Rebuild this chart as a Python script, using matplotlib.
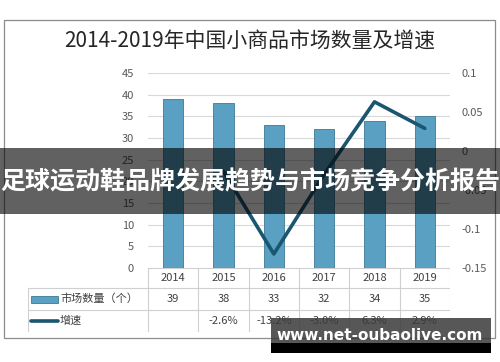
import matplotlib.pyplot as plt
from matplotlib.patches import Rectangle

plt.rcParams['font.family'] = ['Noto Sans CJK SC', 'DejaVu Sans']

# ---- data ----
years = ['2014', '2015', '2016', '2017', '2018', '2019']
counts = [39, 38, 33, 32, 34, 35]
growth = [None, -0.026, -0.132, -0.030, 0.063, 0.029]
growth_labels = ['', '-2.6%', '-13.2%', '-3.0%', '6.3%', '2.9%']
left_ticks = [0, 5, 10, 15, 20, 25, 30, 35, 40, 45]
right_ticks = [-0.15, -0.1, -0.05, 0, 0.05, 0.1]
right_tick_labels = ['-0.15', '-0.1', '-0.05', '0', '0.05', '0.1']

title = '2014-2019年中国小商品市场数量及增速'
banner = '足球运动鞋品牌发展趋势与市场竞争分析报告'
watermark = 'www.net-oubaolive.com'

W, H = 500, 362
BAR_C = '#5aa0c2'
BAR_EDGE = '#3c7996'
LINE_C = '#1b5670'
TXT_C = '#404040'
GRID_C = '#d9d9d9'


def px_box(x0, y0, x1, y1):
    return [x0 / W, 1 - y1 / H, (x1 - x0) / W, (y1 - y0) / H]


fig = plt.figure(figsize=(5, 3.62), dpi=100)

# outer chart frame
fig.patches.append(Rectangle((4 / W, 1 - 338 / H), 491 / W, 318 / H,
                             transform=fig.transFigure, fill=False,
                             edgecolor='#8c8c8c', lw=0.9))

fig.text(250 / W, 1 - 42 / H, title, ha='center', va='center',
         fontsize=15, color='#262626')

# ---- main plot ----
PX0, PX1, PY0, PY1 = 148, 450, 73, 268
ax = fig.add_axes(px_box(PX0, PY0, PX1, PY1))
x = list(range(len(years)))
ax.bar(x, counts, width=0.4, color=BAR_C, edgecolor=BAR_EDGE, lw=0.6, zorder=2)
ax.set_xlim(-0.5, len(years) - 0.5)
ax.set_ylim(0, 45)
ax.set_yticks(left_ticks)
ax.set_xticks([])
ax.grid(axis='y', color=GRID_C, lw=0.8, zorder=0)
ax.tick_params(axis='y', length=0, pad=10, labelsize=8, labelcolor='#595959')
for s in ax.spines.values():
    s.set_visible(False)

ax2 = ax.twinx()
gx = [i for i, g in zip(x, growth) if g is not None]
gy = [g for g in growth if g is not None]
ax2.plot(gx, gy, color=LINE_C, lw=2.6, solid_capstyle='round', zorder=3)
ax2.set_ylim(-0.15, 0.1)
ax2.set_yticks(right_ticks)
ax2.set_yticklabels(right_tick_labels)
ax2.tick_params(axis='y', length=0, pad=8, labelsize=8, labelcolor='#595959')
for s in ax2.spines.values():
    s.set_visible(False)

# ---- data table ----
TX0, TY0, TY1 = 28, 268, 332
col_w = (PX1 - PX0) / len(years)
tax = fig.add_axes(px_box(TX0, TY0, PX1, TY1))
tax.set_xlim(-0.5 - (PX0 - TX0) / col_w, len(years) - 0.5)
rows = [0, 20, 42, 64]
tax.set_ylim(rows[-1], 0)
tax.axis('off')
lc = '#d0d0d0'
xl = -0.5 - (PX0 - TX0) / col_w
# horizontal lines
tax.plot([-0.5, len(years) - 0.5], [rows[0], rows[0]], color=lc, lw=0.8)
for r in rows[1:]:
    tax.plot([xl, len(years) - 0.5], [r, r], color=lc, lw=0.8)
# vertical lines
for i in range(len(years) + 1):
    tax.plot([i - 0.5, i - 0.5], [rows[0], rows[-1]], color=lc, lw=0.8)
tax.plot([xl, xl], [rows[1], rows[-1]], color=lc, lw=0.8)

for i, (yr, c, gl) in enumerate(zip(years, counts, growth_labels)):
    tax.text(i, (rows[0] + rows[1]) / 2, yr, ha='center', va='center',
             fontsize=8, color=TXT_C)
    tax.text(i, (rows[1] + rows[2]) / 2, str(c), ha='center', va='center',
             fontsize=8, color=TXT_C)
    tax.text(i, (rows[2] + rows[3]) / 2, gl, ha='center', va='center',
             fontsize=8, color=TXT_C)

# legend keys inside table
ky1 = (rows[1] + rows[2]) / 2
ky2 = (rows[2] + rows[3]) / 2
k0 = xl + 3 / col_w
k1 = xl + 30 / col_w
tax.add_patch(Rectangle((k0, ky1 - 3.5), k1 - k0, 7, facecolor=BAR_C,
                        edgecolor=BAR_EDGE, lw=0.6))
tax.plot([k0, k1], [ky2, ky2], color=LINE_C, lw=2.6, solid_capstyle='round')
tax.text(k1 + 2 / col_w, ky1, '市场数量（个）', ha='left', va='center',
         fontsize=8, color=TXT_C)
tax.text(k1 + 2 / col_w, ky2, '增速', ha='left', va='center',
         fontsize=8, color=TXT_C)

# ---- banner overlay ----
fig.patches.append(Rectangle((0, 1 - 214 / H), 1, 66 / H,
                             transform=fig.transFigure, facecolor='black',
                             alpha=0.62, edgecolor='none', zorder=10))
fig.text(0.5, 1 - 182 / H, banner, ha='center', va='center', fontsize=18,
         fontweight='bold', color='white', zorder=11)

# ---- watermark ----
fig.patches.append(Rectangle((271 / W, 1 - 343 / H), 220 / W, 25 / H,
                             transform=fig.transFigure, facecolor='#3a3a3a',
                             alpha=0.85, edgecolor='none', zorder=10))
fig.patches.append(Rectangle((271 / W, 1 - 353 / H), 220 / W, 10 / H,
                             transform=fig.transFigure, facecolor='black',
                             edgecolor='none', zorder=10))
fig.text(380 / W, 1 - 336 / H, watermark, ha='center', va='center',
         fontsize=11, fontweight='bold', color='white',
         family='DejaVu Sans', zorder=11)

fig.savefig('out.png', dpi=100)
